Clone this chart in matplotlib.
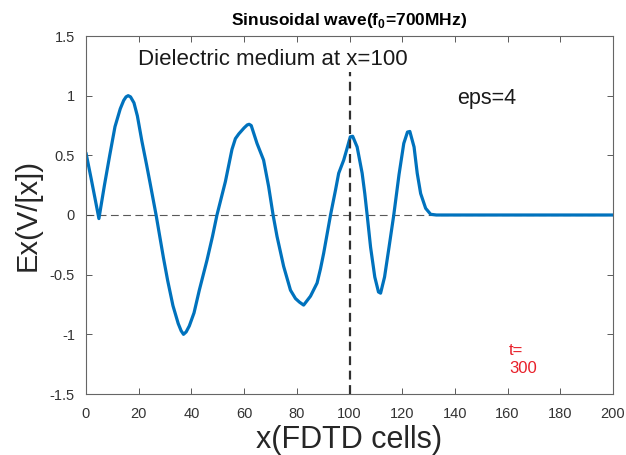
import matplotlib
matplotlib.use("Agg")
import matplotlib.pyplot as plt

plt.rcParams['font.family'] = ['Liberation Sans', 'DejaVu Sans']

# Field Ex along the grid (x in FDTD cells)
x_cells = [0, 2, 3.5, 4.9, 7, 9, 11, 13, 14.3, 15.2, 16, 16.9, 18.2, 19.5, 21.2, 23, 24.3, 26.6,
           29.4, 31, 33, 35, 36.1, 37, 38, 39.2, 41, 43, 45.9, 48, 49.7,
           52.9, 55.4, 56.7, 58, 60, 61.2, 61.9, 62.7, 64.9, 67.4, 69.3, 71,
           72.5, 75, 77.6, 79.5, 81, 82.6, 85.2, 87.7, 89, 90.2, 92.8,
           94.7, 95.9, 97.8, 99.1, 100.3, 101.2, 102.9, 104.8, 105.8, 106.7,
           108, 109.6, 111, 111.8, 113.3, 115, 116.8,
           118.8, 120.6, 122, 122.9, 124.5, 125.7, 127, 128.9, 130.8, 133, 140, 200]
ex_values = [0.52, 0.30, 0.13, -0.03, 0.25, 0.50, 0.74, 0.89, 0.96, 0.99, 1.00, 0.99, 0.94, 0.83, 0.62, 0.42, 0.27, 0.0,
             -0.36, -0.55, -0.76, -0.91, -0.97, -1.00, -0.98, -0.93, -0.82, -0.63, -0.38, -0.18, 0.0,
             0.28, 0.55, 0.64, 0.68, 0.73, 0.755, 0.76, 0.75, 0.60, 0.46, 0.24, 0.0,
             -0.18, -0.43, -0.63, -0.70, -0.73, -0.755, -0.68, -0.57, -0.45, -0.32, 0.0,
             0.21, 0.35, 0.46, 0.56, 0.655, 0.66, 0.57, 0.35, 0.18, 0.0,
             -0.27, -0.52, -0.645, -0.655, -0.52, -0.27, 0.0,
             0.34, 0.60, 0.695, 0.70, 0.57, 0.35, 0.18, 0.056, 0.006, 0.0, 0.0, 0.0]

x_ticks = list(range(0, 201, 20))
y_ticks = [-1.5, -1, -0.5, 0, 0.5, 1, 1.5]
y_tick_labels = ['-1.5', '-1', '-0.5', '0', '0.5', '1', '1.5']
interface_x = 100
interface_top = 1.2

fig = plt.figure(figsize=(6.26, 4.55), dpi=100)
ax = fig.add_axes([86/626, (455-394)/455, (613-86)/626, (394-36)/455])

ax.axhline(0, color='0.35', lw=0.8, ls=(0, (7, 4)), zorder=1)
ax.plot([interface_x, interface_x], [-1.5, interface_top], color='#303030', lw=1.6,
        ls=(0, (4, 2.5)), zorder=3)
ax.plot(x_cells, ex_values, color='#0072BD', lw=2.3, zorder=2,
        solid_joinstyle='round', solid_capstyle='round')

ax.set_xlim(0, 200)
ax.set_ylim(-1.5, 1.5)
ax.set_xticks(x_ticks)
ax.set_yticks(y_ticks)
ax.set_yticklabels(y_tick_labels)
ax.tick_params(direction='in', top=True, right=True, length=4, width=0.6,
               colors='0.25', labelsize=10.5, labelcolor='0.2')
ax.tick_params(axis='y', pad=8)
ax.tick_params(axis='x', pad=9)
for s in ax.spines.values():
    s.set_color('0.4')
    s.set_linewidth(0.8)

ax.set_xlabel('x(FDTD cells)', fontsize=22, color='0.15', labelpad=3)
ax.set_ylabel('Ex(V/[x])', fontsize=21, color='0.15', labelpad=6)
ax.set_title(r'Sinusoidal wave(f$_\mathregular{0}$=700MHz)', fontsize=12.5,
             fontweight='bold', pad=8)

ax.text(71, 1.3, 'Dielectric medium at x=100', fontsize=16, ha='center', va='center',
        color='0.1')
ax.text(152, 0.98, 'eps=4', fontsize=15.5, ha='center', va='center', color='0.1')
ax.text(160.5, -1.21, 't=\n300', fontsize=12, ha='left', va='center', color='#E8202A',
        linespacing=1.25)

fig.savefig('out.png', dpi=100)
